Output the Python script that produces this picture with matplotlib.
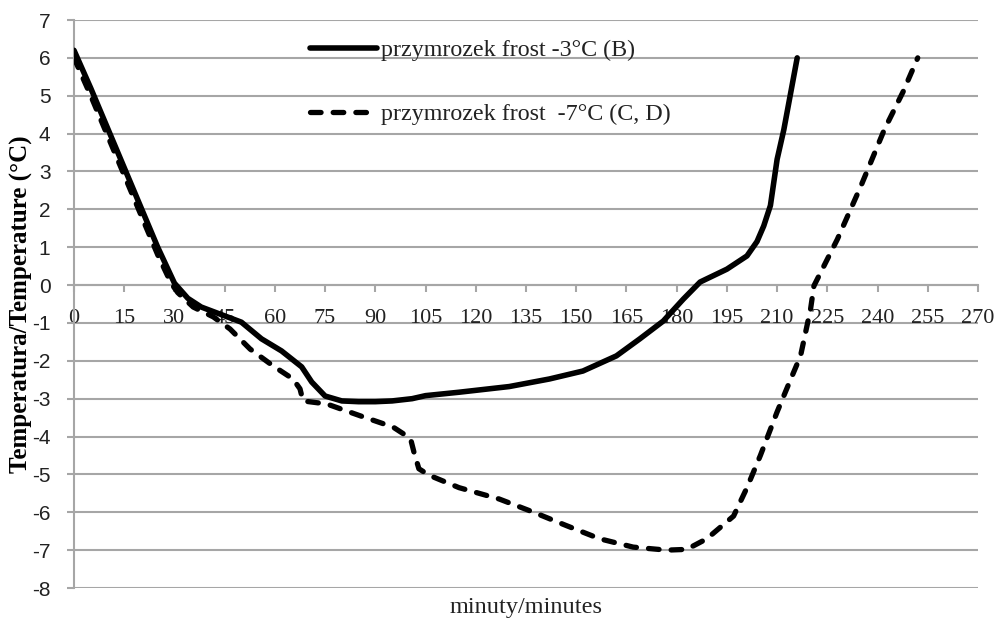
import matplotlib
matplotlib.use("Agg")
import matplotlib.pyplot as plt
import numpy as np

plt.rcParams["axes.unicode_minus"] = False

# Data (minutes, temperature °C)
t_b = [0, 5, 10, 15, 20, 25, 30, 34, 38, 44, 50, 56, 62, 68, 71, 75, 80, 85, 90, 95, 101, 105,
       115, 130, 142, 152, 162, 169, 176, 182, 187, 195, 201, 204, 206, 208, 210, 212, 216]
T_b = [6.2, 5.2, 4.15, 3.1, 2.05, 1.0, 0.05, -0.35, -0.58, -0.78, -0.98, -1.42, -1.74, -2.16, -2.56,
       -2.93, -3.06, -3.08, -3.08, -3.06, -3.0, -2.92, -2.83, -2.68, -2.48, -2.27, -1.87, -1.42,
       -0.95, -0.37, 0.08, 0.42, 0.77, 1.15, 1.56, 2.1, 3.32, 4.1, 6.0]

t_cd = [0, 5, 10, 15, 20, 25, 29, 31, 35.6, 41.6, 46.6, 52.6, 59.4, 65.4, 67.5, 68.4, 75.5, 85.4,
        95.3, 100.5, 101.5, 103, 106, 115, 127, 137, 147, 157, 167, 177, 183, 189, 197, 201,
        205, 210, 214, 217, 220, 221, 228, 235, 242, 247.6, 252]
T_cd = [6.0, 5.0, 3.95, 2.9, 1.85, 0.8, 0.05, -0.2, -0.58, -0.84, -1.16, -1.69, -2.13, -2.48,
        -2.74, -3.06, -3.14, -3.45, -3.75, -4.05, -4.4, -4.85, -5.02, -5.35, -5.65, -5.99, -6.35,
        -6.7, -6.92, -7.0, -6.98, -6.7, -6.1, -5.35, -4.5, -3.35, -2.5, -1.87, -0.63, -0.02,
        1.21, 2.61, 4.1, 5.1, 6.0]

x_ticks = list(range(0, 271, 15))
y_ticks = list(range(-8, 8))
labels = ["przymrozek frost -3°C (B)", "przymrozek frost  -7°C (C, D)"]

fig = plt.figure(figsize=(9.98, 6.18), dpi=100)
ax = fig.add_axes([74/998, 1-588/618, 904/998, 568/618])

grid_c = "#a6a6a6"
ax.set_xlim(0, 270)
ax.set_ylim(-8, 7)
ax.set_yticks(y_ticks)
ax.set_xticks(x_ticks)
for y in y_ticks:
    ax.axhline(y, color=grid_c, lw=1.5, zorder=1)

ax.plot(t_b, T_b, color="black", lw=4, solid_capstyle="round", solid_joinstyle="round",
        zorder=3, label=labels[0])
ax.plot(t_cd, T_cd, color="black", lw=3.8, dashes=(2.0, 2.3), dash_capstyle="round",
        zorder=3, label=labels[1])

for s in ["top", "right"]:
    ax.spines[s].set_visible(False)
ax.spines["left"].set_color(grid_c)
ax.spines["left"].set_linewidth(1.5)
ax.spines["bottom"].set_position(("data", 0))
ax.spines["bottom"].set_color(grid_c)
ax.spines["bottom"].set_linewidth(1.5)

ax.tick_params(axis="y", direction="out", length=5, width=1.5, color=grid_c, pad=12,
               labelsize=15, labelcolor="#222222")
ax.tick_params(axis="x", direction="out", length=5, width=1.5, color=grid_c, pad=12,
               labelsize=16, labelcolor="#222222")
for lab in ax.get_yticklabels():
    lab.set_fontfamily("Liberation Sans")
for lab in ax.get_xticklabels():
    lab.set_fontfamily("Liberation Serif")

ax.set_xlabel("minuty/minutes", fontfamily="Liberation Serif", fontsize=17.5,
              color="#222222")
ax.xaxis.set_label_coords(0.5, -0.016)
ax.set_ylabel("Temperatura/Temperature (°C)", fontfamily="Liberation Serif",
              fontsize=18, fontweight="bold")
ax.yaxis.set_label_coords(-0.045, 0.5)

leg = ax.legend(loc="upper left", bbox_to_anchor=(0.261, 0.966), frameon=False,
                prop={"family": "Liberation Serif", "size": 17.3}, handlelength=2.8,
                handletextpad=0.15, labelspacing=1.75, borderpad=0, borderaxespad=0)
for txt in leg.get_texts():
    txt.set_color("#222222")

fig.savefig("out.png", dpi=100)
